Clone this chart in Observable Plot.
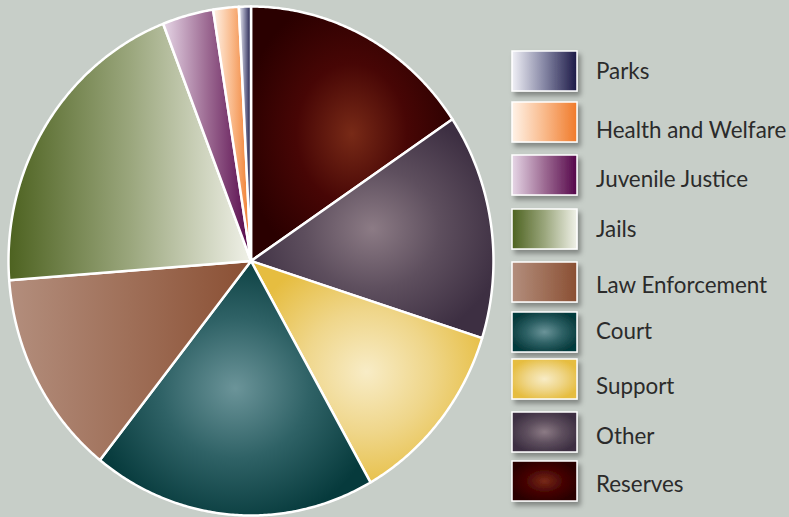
<!DOCTYPE html>
<html>
<head>
<meta charset="utf-8">
<script src="https://cdn.jsdelivr.net/npm/d3@7"></script>
<script src="https://cdn.jsdelivr.net/npm/@observablehq/plot@0.6"></script>
<style>
  html, body { margin: 0; padding: 0; background: #c7cec8; }
  #chart svg { display: block; }
</style>
</head>
<body>
<div id="chart"></div>
<script>
// Slices, clockwise from 12 o'clock
const categories = ["Reserves", "Other", "Support", "Court", "Law Enforcement", "Jails", "Juvenile Justice", "Health and Welfare", "Parks"];
const values = [15.6, 14.3, 11.9, 18.9, 13.1, 20.3, 3.4, 1.7, 0.8];
// Legend order (top to bottom)
const legendOrder = ["Parks", "Health and Welfare", "Juvenile Justice", "Jails", "Law Enforcement", "Court", "Support", "Other", "Reserves"];
// Gradient styles per category
const gradientTypes = ["radial", "radial", "radial", "radial", "linear", "linear", "linear", "linear", "linear"];
const gradientStart = ["#782a17", "#8c7b85", "#f8ecc6", "#6b9499", "#b38e7d", "#4d6220", "#e6d6e6", "#fff3e8", "#f0f0f6"];
const gradientMid   = ["#470605", "#5e4f5e", "#efd68a", "#2f6266", "#9f6f58", "#9aa67c", "#9d6b93", "#f9b98a", "#8586a4"];
const gradientEnd   = ["#2a0000", "#3d2f42", "#e6bd40", "#063a3c", "#8a4f33", "#f0f1e8", "#55064a", "#f07a2a", "#1b1946"];

// Legend layout (pixels)
const swatchTops = [51, 102, 155, 209, 262, 312, 359, 412, 461];
const labelCenters = [71, 130, 179, 229, 285, 331, 386, 436, 484];

const gid = c => "grad-" + categories.indexOf(c);

const pie = d3.pie().sort(null).value(d => d.value);
const arcs = pie(categories.map((c, i) => ({cat: c, value: values[i]})));

// Build polygon points (in unit-circle data space) for each slice
const points = [];
for (const a of arcs) {
  const c = a.data.cat;
  points.push({cat: c, x: 0, y: 0});
  const n = Math.max(2, Math.ceil((a.endAngle - a.startAngle) / (Math.PI / 360)));
  for (let k = 0; k <= n; k++) {
    const t = a.startAngle + (a.endAngle - a.startAngle) * k / n;
    points.push({cat: c, x: Math.sin(t), y: Math.cos(t)});
  }
}

const defsMark = () => {
  const defs = d3.create("svg:defs");
  categories.forEach((c, i) => {
    let g;
    if (gradientTypes[i] === "radial") {
      g = defs.append("radialGradient").attr("id", gid(c)).attr("cx", "50%").attr("cy", "50%").attr("r", "55%");
    } else {
      g = defs.append("linearGradient").attr("id", gid(c)).attr("x1", 0).attr("x2", 1).attr("y1", 0).attr("y2", 0);
    }
    g.append("stop").attr("offset", "0%").attr("stop-color", gradientStart[i]);
    g.append("stop").attr("offset", "50%").attr("stop-color", gradientMid[i]);
    g.append("stop").attr("offset", "100%").attr("stop-color", gradientEnd[i]);
  });
  const f = defs.append("filter").attr("id", "shadow").attr("x", "-20%").attr("y", "-20%").attr("width", "150%").attr("height", "160%");
  f.append("feDropShadow").attr("dx", 3).attr("dy", 4).attr("stdDeviation", 2.5).attr("flood-color", "#000").attr("flood-opacity", 0.35);
  return defs.node();
};

const legendMark = () => {
  const g = d3.create("svg:g").attr("text-anchor", "start");
  legendOrder.forEach((c, i) => {
    const top = swatchTops[i];
    g.append("rect")
      .attr("x", 512).attr("y", top).attr("width", 65).attr("height", 40)
      .attr("fill", `url(#${gid(c)})`)
      .attr("stroke", "white").attr("stroke-width", 1.5)
      .attr("filter", "url(#shadow)");
    g.append("text")
      .attr("x", 596).attr("y", labelCenters[i])
      .attr("dy", "0.36em")
      .attr("text-anchor", "start")
      .attr("font-family", "Lato, 'Open Sans', sans-serif")
      .attr("font-size", 22.4)
      .attr("fill", "#2b2b2b")
      .text(c);
  });
  return g.node();
};

const chart = Plot.plot({
  width: 789,
  height: 517,
  margin: 0,
  style: {background: "#c7cec8"},
  x: {domain: [-1, 1], range: [8, 493], axis: null},
  y: {domain: [-1, 1], range: [515, 6], axis: null},
  color: {type: "identity"},
  marks: [
    defsMark,
    Plot.line(points, {
      x: "x", y: "y", z: "cat",
      fill: d => `url(#${gid(d.cat)})`,
      stroke: "white", strokeWidth: 2.5, strokeLinejoin: "round",
      curve: "linear-closed"
    }),
    legendMark
  ]
});
document.getElementById("chart").appendChild(chart);
</script>
</body>
</html>
